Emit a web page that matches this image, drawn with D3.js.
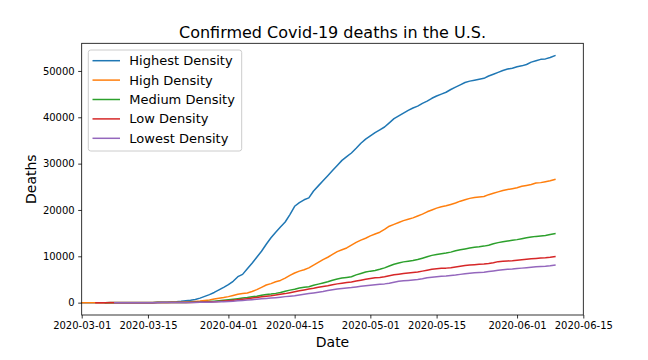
<!DOCTYPE html>
<html><head><meta charset="utf-8">
<script src="https://cdn.jsdelivr.net/npm/d3@7"></script>
<style>body{margin:0;background:#fff}svg{display:block}text{font-family:"DejaVu Sans",sans-serif}</style>
</head><body>
<svg id="c" width="648" height="360"></svg>
<script>
const startDate = "2020-03-01";
const seriesNames = ["Highest Density","High Density","Medium Density","Low Density","Lowest Density"];
const seriesColors = ["#1f77b4","#ff7f0e","#2ca02c","#d62728","#9467bd"];
const xTickLabels = ["2020-03-01","2020-03-15","2020-04-01","2020-04-15","2020-05-01","2020-05-15","2020-06-01","2020-06-15"];
const yTickValues = [0,10000,20000,30000,40000,50000];
const seriesStart = [0,0,5,3,7];

const highest = [0,0,1,2,3,5,7,9,11,13,
16,20,25,32,40,50,65,85,110,150,
200,280,390,520,700,980,1350,1730,2200,2750,
3300,3880,4600,5600,6100,7300,8500,9800,11100,12600,
14000,15200,16300,17400,19000,20800,21600,22200,22600,24100,
25200,26300,27400,28500,29600,30700,31500,32300,33300,34400,
35300,36000,36700,37300,37900,38800,39700,40300,40900,41500,
42000,42400,43000,43500,44100,44600,45000,45400,46000,46500,
47000,47500,47800,48000,48200,48400,48900,49300,49700,50100,
50400,50600,50900,51100,51400,51900,52200,52500,52600,52900,
53300];
const high = [1,1,2,3,4,5,6,7,8,9,
10,12,14,17,21,26,32,40,50,65,
85,110,150,200,260,340,450,580,800,950,
1100,1300,1550,1800,1950,2100,2400,2800,3300,3800,
4100,4500,4800,5300,5900,6400,6800,7100,7500,8100,
8700,9300,9800,10400,11000,11400,11800,12400,13000,13500,
13900,14400,14800,15200,15800,16500,16900,17300,17700,18000,
18300,18700,19100,19600,20000,20400,20700,20900,21200,21500,
21900,22200,22500,22700,22800,22900,23300,23600,23900,24200,
24400,24600,24800,25100,25300,25500,25800,25900,26100,26300,
26600];
const medium = [null,null,null,null,null,0,0,0,1,1,
1,2,2,3,4,5,7,10,14,20,
28,40,55,75,100,135,180,240,310,400,
500,600,720,850,1000,1100,1250,1400,1600,1750,
1850,2000,2200,2450,2700,2900,3150,3300,3450,3750,
4000,4250,4500,4850,5100,5300,5450,5600,6000,6300,
6600,6800,6950,7200,7500,7900,8300,8550,8800,8950,
9100,9300,9600,9900,10200,10400,10550,10700,10900,11200,
11400,11600,11800,11950,12050,12200,12400,12700,12950,13150,
13300,13450,13600,13800,14000,14150,14300,14400,14500,14700,
14900];
const low = [null,null,null,0,0,0,0,1,1,1,
1,2,2,3,4,5,6,8,11,15,
20,28,38,50,70,95,125,160,210,270,
340,420,510,620,730,850,980,1120,1260,1400,
1500,1650,1800,1950,2150,2350,2550,2750,2950,3100,
3300,3500,3650,3850,4050,4200,4350,4450,4650,4850,
5050,5200,5350,5450,5600,5800,6000,6150,6300,6400,
6500,6600,6800,7000,7200,7300,7400,7450,7550,7700,
7850,8000,8100,8200,8300,8350,8450,8600,8850,8950,
9000,9050,9150,9250,9350,9450,9550,9650,9700,9800,
9950];
const lowest = [null,null,null,null,null,null,null,0,0,1,
1,1,2,2,3,4,5,6,8,10,
13,18,25,33,45,60,80,105,135,170,
210,260,320,390,470,560,650,740,830,920,
1000,1080,1180,1300,1400,1500,1650,1800,1950,2100,
2250,2400,2600,2800,2950,3050,3150,3250,3400,3550,
3650,3750,3850,3950,4050,4200,4400,4600,4700,4800,
4900,5000,5150,5350,5500,5600,5700,5750,5850,5950,
6100,6250,6350,6450,6500,6550,6700,6850,7000,7100,
7200,7250,7350,7450,7550,7650,7750,7800,7850,7950,
8100];
const allSeries = [highest, high, medium, low, lowest];

const parse = d3.utcParse("%Y-%m-%d");
const fmt = d3.utcFormat("%Y-%m-%d");
const t0 = parse(startDate);
const dates = highest.map((_, i) => d3.utcDay.offset(t0, i));

const svg = d3.select("#c");
const L = 81.7, R = 583.3, T = 43.3, B = 315;
const x = d3.scaleUtc().domain([parse(xTickLabels[0]), parse(xTickLabels[xTickLabels.length-1])]).range([L, R]);
const yMax = d3.max(allSeries.flat());
const pad = yMax * 0.05;
const y = d3.scaleLinear().domain([-pad, yMax + pad]).range([B, T]);

// axes
const xAxis = d3.axisBottom(x).tickValues(xTickLabels.map(parse)).tickFormat(fmt).tickSize(3.5).tickPadding(3.5);
const gx = svg.append("g").attr("transform", `translate(0,${B})`).call(xAxis);
const yAxis = d3.axisLeft(y).tickValues(yTickValues).tickFormat(d3.format("d")).tickSize(3.5).tickPadding(3.5);
const gy = svg.append("g").attr("transform", `translate(${L},0)`).call(yAxis);
[gx, gy].forEach(g => {
  g.select(".domain").remove();
  g.selectAll("line").attr("stroke", "#000").attr("stroke-width", 0.8);
  g.selectAll("text").attr("font-size", 10).attr("fill", "#000").attr("font-family", "DejaVu Sans");
});

// lines
const line = d3.line().defined(d => d[1] != null).x(d => x(d[0])).y(d => y(d[1]));
allSeries.forEach((s, i) => {
  svg.append("path").datum(s.map((v, j) => [dates[j], v]))
    .attr("fill", "none").attr("stroke", seriesColors[i]).attr("stroke-width", 1.5)
    .attr("stroke-linejoin", "round").attr("stroke-linecap", "square").attr("d", line);
});

// frame
svg.append("rect").attr("x", L).attr("y", T).attr("width", R - L).attr("height", B - T)
  .attr("fill", "none").attr("stroke", "#000").attr("stroke-width", 0.8);

// title & labels
svg.append("text").attr("x", (L + R) / 2).attr("y", 38).attr("text-anchor", "middle")
  .attr("font-size", 16).text("Confirmed Covid-19 deaths in the U.S.");
svg.append("text").attr("x", (L + R) / 2).attr("y", 347).attr("text-anchor", "middle")
  .attr("font-size", 14).text("Date");
svg.append("text").attr("transform", `translate(36,${(T + B) / 2}) rotate(-90)`).attr("text-anchor", "middle")
  .attr("font-size", 14).text("Deaths");

// legend
const lg = svg.append("g");
lg.append("rect").attr("x", 88.3).attr("y", 50).attr("width", 153.4).attr("height", 101).attr("rx", 2.5)
  .attr("fill", "#fff").attr("fill-opacity", 0.8).attr("stroke", "#ccc").attr("stroke-width", 1);
seriesNames.forEach((n, i) => {
  const yy = 60.7 + i * 19.4;
  lg.append("line").attr("x1", 92.5).attr("x2", 120).attr("y1", yy).attr("y2", yy)
    .attr("stroke", seriesColors[i]).attr("stroke-width", 1.5);
  lg.append("text").attr("x", 129.3).attr("y", yy).attr("dy", "0.35em").attr("font-size", 13).text(n);
});
</script>
</body></html>
